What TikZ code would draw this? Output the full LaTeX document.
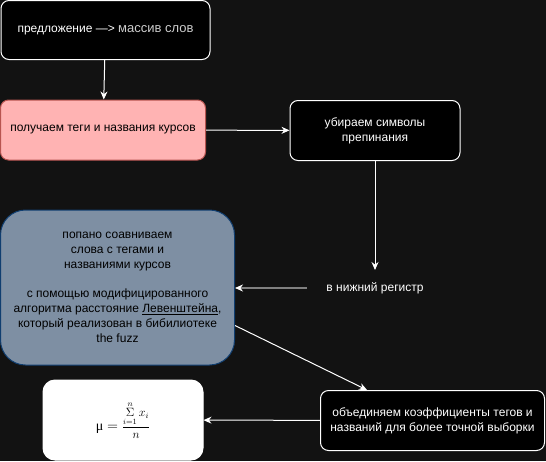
\documentclass[tikz,border=0pt]{standalone}
\usepackage{fontspec}
\usepackage{amsmath}
\setmainfont{Liberation Sans}
\newfontfamily\serifmu{Liberation Serif}
\usetikzlibrary{arrows.meta}
\definecolor{bg}{RGB}{18,18,18}
\definecolor{pinkfill}{RGB}{255,179,179}
\definecolor{pinkline}{RGB}{184,84,80}
\definecolor{slatefill}{RGB}{126,143,163}
\definecolor{slateline}{RGB}{16,62,112}
\definecolor{softgray}{RGB}{205,205,205}
\tikzset{
	box/.style={draw=white, fill=black, text=white, rounded corners=8pt, align=center, inner sep=0pt, line width=1pt, font=\fontsize{12}{15}\selectfont},
	link/.style={draw=white, line width=1pt, -{Stealth[length=8pt, width=7pt]}},
}
\begin{document}
\begin{tikzpicture}[x=1pt, y=-1pt]
	\fill[bg] (0,0) rectangle (546,461);
	\useasboundingbox (0,0) rectangle (546,461);
	\node[box, minimum width=209, minimum height=59] (sentence) at (105.5,30) {предложение —> {\color{softgray}\fontsize{13}{15}\selectfont массив слов}};
	\node[box, fill=pinkfill, draw=pinkline, text=black, minimum width=205, minimum height=60] (tags) at (103,130) {получаем теги и названия курсов};
	\node[box, minimum width=170, minimum height=60] (punct) at (375,130.5) {убираем символы\\препинания};
	\node[box, draw=none, fill=none, minimum width=135, minimum height=35] (lower) at (375,288) {в нижний регистр};
	\node[box, fill=slatefill, draw=slateline, text=black, rounded corners=25pt, minimum width=234, minimum height=155] (match) at (117.5,287.5) {попано соавниваем\\слова с тегами и\\названиями курсов\\[14.5pt]с помощью модифицированного\\алгоритма расстояние \underline{Левенштейна},\\который реализован в бибилиотеке\\the fuzz};
	\node[box, minimum width=224, minimum height=60] (merge) at (432.5,420.5) {объединяем коэффициенты тегов и\\названий для более точной выборки};
	\node[box, fill=white, text=black, rounded corners=12pt, minimum width=160, minimum height=80, font=\fontsize{14}{16}\selectfont] (mean) at (123,420) {{\serifmu μ} $=$ {\fontsize{12}{14}\selectfont$\dfrac{\overset{n}{\underset{i=1}{\Sigma}}\,x_i}{n}$}};
	\draw[link] (sentence) -- (tags);
	\draw[link] (tags) -- (punct);
	\draw[link] (punct) -- (lower);
	\draw[link, draw=gray, line width=1.5pt, -{Stealth[length=8pt, width=7pt, color=white]}] (lower.west) -- (lower.west -| match.east);
	\draw[link] ([yshift=-38pt]match.east) -- ([xshift=47pt]merge.north west);
	\draw[link] (merge) -- (mean);
\end{tikzpicture}
\end{document}
